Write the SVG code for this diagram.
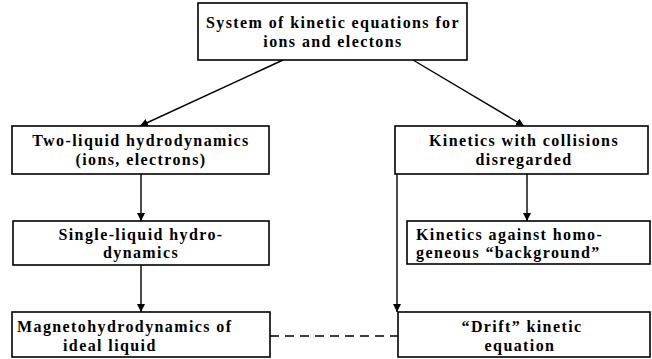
<svg xmlns="http://www.w3.org/2000/svg" width="652" height="359" viewBox="0 0 652 359">
<defs>
<marker id="ah" viewBox="0 0 10 10" refX="10" refY="5" markerWidth="8" markerHeight="8" orient="auto-start-reverse" markerUnits="userSpaceOnUse">
<path d="M0,0 L10,5 L0,10 z" fill="#000"/>
</marker>
<style>
.box{fill:#fff;stroke:#000;stroke-width:1.6}
.t{font-family:"Liberation Serif","Times New Roman",serif;font-weight:bold;font-size:16px;letter-spacing:1.4px;fill:#000}
.c{text-anchor:middle}
.ln{stroke:#000;stroke-width:1.4;fill:none}
</style>
</defs>
<rect width="652" height="359" fill="#fff"/>
<g id="connectors">
<line class="ln" x1="283" y1="60" x2="140" y2="126" marker-end="url(#ah)"/>
<line class="ln" x1="413" y1="60" x2="524" y2="126" marker-end="url(#ah)"/>
<line class="ln" x1="141" y1="174" x2="141" y2="221" marker-end="url(#ah)"/>
<line class="ln" x1="141" y1="265" x2="141" y2="312" marker-end="url(#ah)"/>
<line class="ln" x1="527" y1="174" x2="527" y2="221" marker-end="url(#ah)"/>
<line class="ln" x1="397" y1="174" x2="397" y2="312" marker-end="url(#ah)"/>
<line class="ln" x1="270" y1="336" x2="398" y2="336" stroke-dasharray="9,6"/>
</g>
<g id="n-system">
<rect class="box" x="198" y="3" width="269" height="57"/>
<text class="t c" x="333" y="28">System of kinetic equations for</text>
<text class="t c" x="333" y="47">ions and electons</text>
</g>
<g id="n-twoliquid">
<rect class="box" x="12" y="126" width="257" height="48"/>
<text class="t c" x="141" y="146">Two-liquid hydrodynamics</text>
<text class="t c" x="141" y="165">(ions, electrons)</text>
</g>
<g id="n-collisions">
<rect class="box" x="395" y="126" width="253" height="48"/>
<text class="t c" x="524" y="146">Kinetics with collisions</text>
<text class="t c" x="524" y="165">disregarded</text>
</g>
<g id="n-singleliquid">
<rect class="box" x="13" y="221" width="256" height="44"/>
<text class="t c" x="141" y="240">Single-liquid hydro-</text>
<text class="t c" x="141" y="258">dynamics</text>
</g>
<g id="n-background">
<rect class="box" x="407" y="221" width="243" height="43"/>
<text class="t" x="416" y="240">Kinetics against homo-</text>
<text class="t" x="416" y="258">geneous “background”</text>
</g>
<g id="n-mhd">
<rect class="box" x="12" y="312" width="258" height="45"/>
<text class="t" x="17" y="332">Magnetohydrodynamics of</text>
<text class="t" x="63" y="351">ideal liquid</text>
</g>
<g id="n-drift">
<rect class="box" x="398" y="312" width="252" height="45"/>
<text class="t c" x="522" y="332">“Drift” kinetic</text>
<text class="t c" x="520" y="351">equation</text>
</g>
</svg>
